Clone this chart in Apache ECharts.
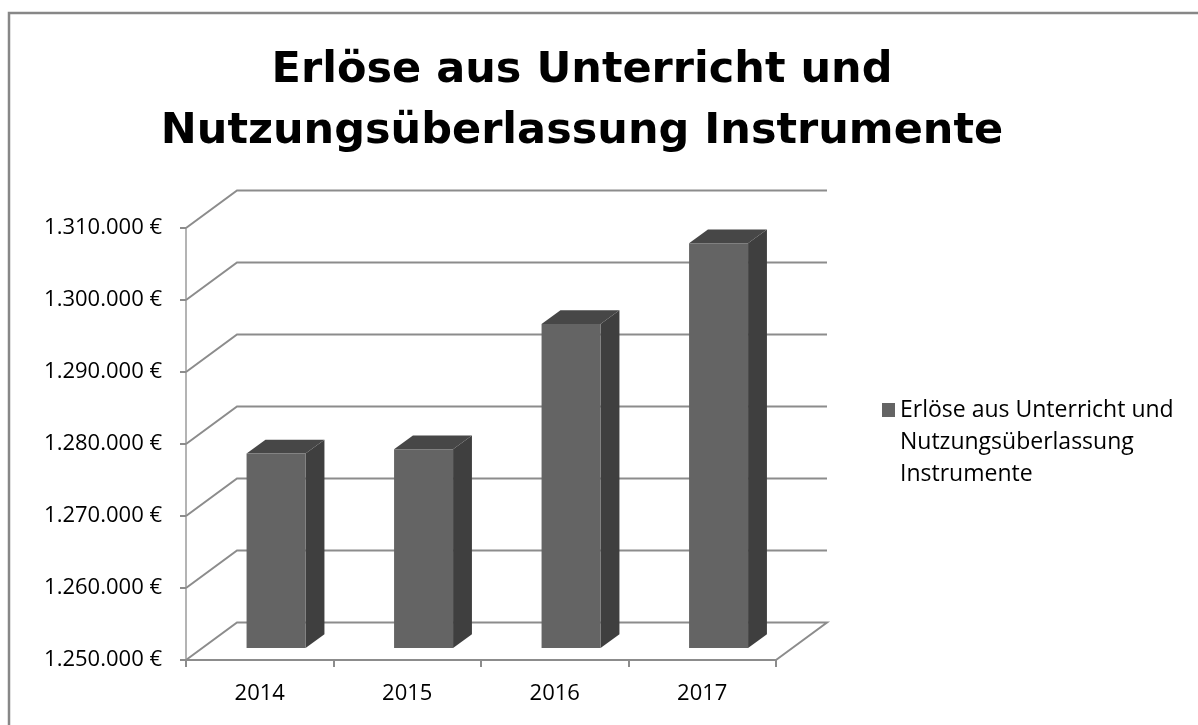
<!DOCTYPE html>
<html>
<head>
<meta charset="utf-8">
<script src="https://cdn.jsdelivr.net/npm/echarts@6/dist/echarts.min.js"></script>
<style>
  html, body { margin: 0; padding: 0; background: #fff; }
  #main { width: 1198px; height: 725px; }
</style>
</head>
<body>
<div id="main"></div>
<script>
// Daten
var years = ["2014", "2015", "2016", "2017"];
var revenue = [1277000, 1277600, 1295000, 1306200];
var yTicks = [1250000, 1260000, 1270000, 1280000, 1290000, 1300000, 1310000];
var seriesName = "Erlöse aus Unterricht und Nutzungsüberlassung Instrumente";

var yMin = yTicks[0];
var yMax = yTicks[yTicks.length - 1];

// Perspektive (Versatz der Rückwand)
var DEPTH_X = 51;
var DEPTH_Y = -37.5;
var BAR_Z0 = 0.32;   // Vorderkante der Säule in der Tiefe
var BAR_Z1 = 0.69;   // Hinterkante
var BAR_W = 0.4;     // Anteil der Kategoriebreite

function fmtEuro(v) {
  return String(v).replace(/\B(?=(\d{3})+(?!\d))/g, ".") + " €";
}

var chart = echarts.init(document.getElementById("main"));

// Gitterlinien: schräg nach hinten, dann entlang der Rückwand
function renderFrame(params, api) {
  var cs = params.coordSys;
  var v = api.value(1);
  var y = api.coord([0, v])[1];
  var x0 = cs.x, x1 = cs.x + cs.width;
  var pts = [[x0, y], [x0 + DEPTH_X, y + DEPTH_Y], [x1 + DEPTH_X, y + DEPTH_Y]];
  if (v === yMin) pts.push([x1, y]);
  return {
    type: "polyline",
    shape: { points: pts },
    style: { stroke: "#8c8c8c", lineWidth: 2, fill: null }
  };
}

// 3D-Säulen
function renderBar(params, api) {
  var i = api.value(0);
  var top = api.coord([i, api.value(1)]);
  var base = api.coord([i, yMin]);
  var band = api.size([1, 0])[0];
  var w = band * BAR_W;
  var sx = DEPTH_X * BAR_Z0, sy = DEPTH_Y * BAR_Z0;
  var ex = DEPTH_X * (BAR_Z1 - BAR_Z0), ey = DEPTH_Y * (BAR_Z1 - BAR_Z0);
  var xl = top[0] - w / 2 + sx, xr = top[0] + w / 2 + sx;
  var yt = top[1] + sy, yb = base[1] + sy;
  return {
    type: "group",
    children: [
      {
        type: "polygon",
        shape: { points: [[xr, yt], [xr + ex, yt + ey], [xr + ex, yb + ey], [xr, yb]] },
        style: { fill: "#3f3f3f" }
      },
      {
        type: "polygon",
        shape: { points: [[xl, yt], [xr, yt], [xr + ex, yt + ey], [xl + ex, yt + ey]] },
        style: { fill: "#474747" }
      },
      {
        type: "rect",
        shape: { x: xl, y: yt, width: w, height: yb - yt },
        style: { fill: "#646464" }
      }
    ]
  };
}

var option = {
  animation: false,
  backgroundColor: "#ffffff",
  graphic: [
    {
      type: "rect",
      shape: { x: 9, y: 13, width: 1400, height: 900 },
      style: { fill: null, stroke: "#878787", lineWidth: 2.5 },
      z: 0
    },
    {
      type: "text",
      x: 582,
      y: 40,
      style: {
        text: "Erlöse aus Unterricht und\nNutzungsüberlassung Instrumente",
        align: "center",
        verticalAlign: "top",
        fontFamily: "DejaVu Sans",
        fontWeight: "bold",
        fontSize: 43,
        lineHeight: 61,
        fill: "#000"
      }
    }
  ],
  legend: {
    // Quadrat oben, unsichtbarer Punkt unten -> Symbol neben der ersten Zeile
    data: [{ name: seriesName, icon: "path://M0,0L13,0L13,14L0,14Z M0,78L0,78" }],
    left: 882,
    top: 394,
    padding: 0,
    itemWidth: 13,
    itemHeight: 78,
    itemStyle: { borderWidth: 0 },
    formatter: function () {
      return "Erlöse aus Unterricht und\nNutzungsüberlassung\nInstrumente";
    },
    textStyle: {
      fontFamily: "Open Sans",
      fontSize: 23,
      lineHeight: 32,
      color: "#000"
    }
  },
  grid: {
    left: 186,
    top: 228,
    width: 590,
    height: 432
  },
  xAxis: {
    type: "category",
    data: years,
    axisLine: { lineStyle: { color: "#8c8c8c", width: 2 } },
    axisTick: { show: true, length: 7, lineStyle: { color: "#8c8c8c", width: 2 } },
    axisLabel: { margin: 23, fontFamily: "Open Sans", fontSize: 22, color: "#000" },
    splitLine: { show: false }
  },
  yAxis: {
    type: "value",
    min: yMin,
    max: yMax,
    interval: 10000,
    axisLine: { show: true, lineStyle: { color: "#b4b4b4", width: 2 } },
    axisTick: { show: true, length: 6, lineStyle: { color: "#8c8c8c", width: 2 } },
    axisLabel: {
      margin: 24,
      formatter: fmtEuro,
      fontFamily: "Open Sans",
      fontSize: 22,
      color: "#000"
    },
    splitLine: { show: false }
  },
  series: [
    {
      name: "frame",
      type: "custom",
      renderItem: renderFrame,
      clip: false,
      silent: true,
      z: 1,
      data: yTicks.map(function (v) { return [0, v]; })
    },
    {
      name: seriesName,
      type: "custom",
      renderItem: renderBar,
      clip: false,
      z: 3,
      itemStyle: { color: "#646464" },
      data: revenue.map(function (v, i) { return [i, v]; })
    }
  ]
};

chart.setOption(option);
</script>
</body>
</html>
